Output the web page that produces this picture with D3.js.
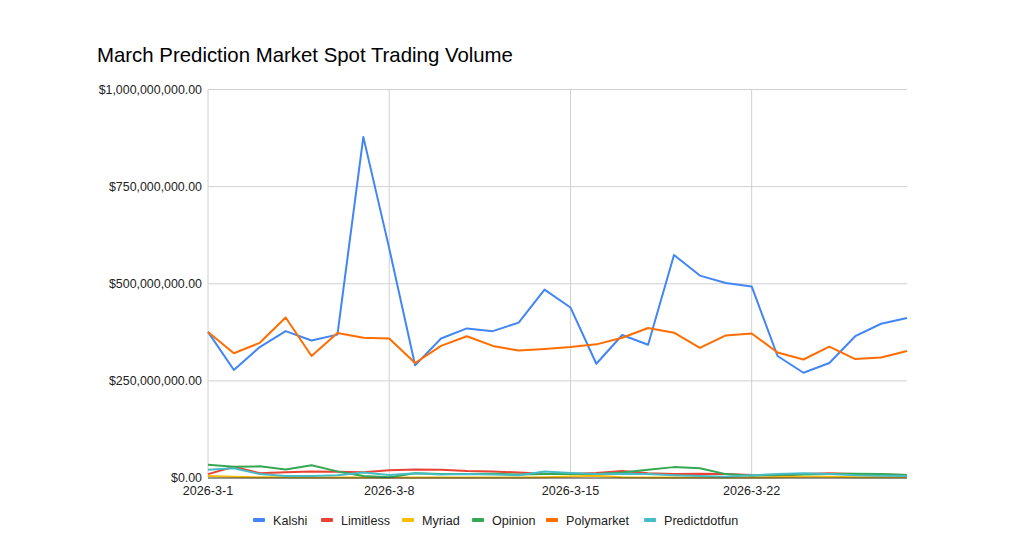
<!DOCTYPE html>
<html>
<head>
<meta charset="utf-8">
<script src="https://cdn.jsdelivr.net/npm/d3@7"></script>
<style>
  body { margin: 0; background: #fff; }
  text { font-family: "Liberation Sans", Arial, sans-serif; }
</style>
</head>
<body>
<script>
// days of March 2026
var dates = d3.range(1, 29).map(function(d) { return new Date(2026, 2, d); });
var tickDays = [1, 8, 15, 22];

// daily volume, in millions of dollars
var kalshi = [376, 278, 337, 378, 354, 369, 878, 591, 290, 359, 385, 378, 400, 485,
              439, 294, 368, 343, 574, 521, 502, 493, 314, 271, 296, 365, 397, 412];
var limitless = [10, 29, 12, 15, 17, 16, 15, 20, 22, 21, 18, 17, 14, 11,
                 10, 13, 18, 12, 10, 11, 10, 8, 6, 10, 12, 10, 9, 8];
var myriad = [5, 3, 2, 2, 1, 1, 1, 1, 1, 1, 1, 1, 1, 2,
              4, 6, 2, 1, 1, 1, 1, 1, 2, 3, 3, 2, 2, 2];
var opinion = [34, 29, 30, 22, 33, 17, 5, 2, 12, 10, 10, 11, 9, 10,
               10, 10, 14, 21, 28, 25, 10, 6, 8, 9, 10, 11, 10, 8];
var polymarket = [376, 321, 348, 413, 314, 373, 361, 359, 296, 340, 365, 340, 328, 332,
                  337, 344, 361, 386, 374, 335, 367, 372, 323, 305, 338, 306, 310, 327];
var predictdotfun = [21, 25, 10, 5, 5, 7, 14, 8, 12, 9, 10, 9, 7, 17,
                     13, 10, 11, 10, 7, 5, 3, 7, 10, 12, 10, 7, 6, 5];

var seriesNames = ["Kalshi", "Limitless", "Myriad", "Opinion", "Polymarket", "Predictdotfun"];
var seriesValues = [kalshi, limitless, myriad, opinion, polymarket, predictdotfun];
var colors = ["#4285f4", "#ea4335", "#fbbc04", "#34a853", "#ff6d01", "#46bdc6"];
var yTicks = [0, 250, 500, 750, 1000];

var width = 1024, height = 559;
var margin = {left: 208, right: 117, top: 89.5, bottom: 81};

var svg = d3.select("body").append("svg")
    .attr("width", width)
    .attr("height", height);

svg.append("text")
    .attr("x", 97)
    .attr("y", 62)
    .style("font-size", "20.4px")
    .style("fill", "#000")
    .text("March Prediction Market Spot Trading Volume");

var x = d3.scaleTime()
    .domain([dates[0], dates[dates.length - 1]])
    .range([margin.left, width - margin.right]);

var y = d3.scaleLinear()
    .domain([0, 1000])
    .range([height - margin.bottom, margin.top]);

var money = d3.format(",.2f");

// horizontal grid + labels
svg.append("g").selectAll("line")
    .data(yTicks.slice(1))
    .enter().append("line")
    .attr("x1", margin.left)
    .attr("x2", width - margin.right)
    .attr("y1", function(d) { return y(d); })
    .attr("y2", function(d) { return y(d); })
    .attr("stroke", "#d0d0d0")
    .attr("stroke-width", 1);

svg.append("g").selectAll("text")
    .data(yTicks)
    .enter().append("text")
    .attr("x", 202)
    .attr("y", function(d) { return y(d) + 4; })
    .attr("text-anchor", "end")
    .style("font-size", "12.4px")
    .style("fill", "#222")
    .text(function(d) { return "$" + money(d * 1e6); });

// vertical grid at weekly ticks
var tickDates = tickDays.map(function(d) { return new Date(2026, 2, d); });
svg.append("g").selectAll("line")
    .data(tickDates)
    .enter().append("line")
    .attr("x1", function(d) { return x(d); })
    .attr("x2", function(d) { return x(d); })
    .attr("y1", margin.top)
    .attr("y2", height - margin.bottom)
    .attr("stroke", "#d0d0d0")
    .attr("stroke-width", 1);

svg.append("g").selectAll("text")
    .data(tickDates)
    .enter().append("text")
    .attr("x", function(d) { return x(d); })
    .attr("y", 495)
    .attr("text-anchor", "middle")
    .style("font-size", "12.6px")
    .style("fill", "#222")
    .text(function(d) { return "2026-3-" + d.getDate(); });

// lines
var line = d3.line()
    .x(function(d, i) { return x(dates[i]); })
    .y(function(d) { return y(d); });

svg.append("g").selectAll("path")
    .data(seriesValues)
    .enter().append("path")
    .attr("d", line)
    .attr("fill", "none")
    .attr("stroke", function(d, i) { return colors[i]; })
    .attr("stroke-width", 2)
    .attr("stroke-linejoin", "round");

// baseline
svg.append("line")
    .attr("x1", margin.left)
    .attr("x2", width - margin.right)
    .attr("y1", y(0))
    .attr("y2", y(0))
    .attr("stroke", "#333")
    .attr("stroke-width", 1);

// legend
var legendX = [253, 321, 402, 472, 546, 644];
var legend = svg.append("g").selectAll("g")
    .data(seriesNames)
    .enter().append("g")
    .attr("transform", function(d, i) { return "translate(" + legendX[i] + ",520)"; });

legend.append("rect")
    .attr("x", 0)
    .attr("y", -2)
    .attr("width", 12)
    .attr("height", 4)
    .attr("rx", 1)
    .style("fill", function(d, i) { return colors[i]; });

legend.append("text")
    .attr("x", 20)
    .attr("y", 4.5)
    .style("font-size", "12.6px")
    .style("fill", "#222")
    .text(function(d) { return d; });
</script>
</body>
</html>
